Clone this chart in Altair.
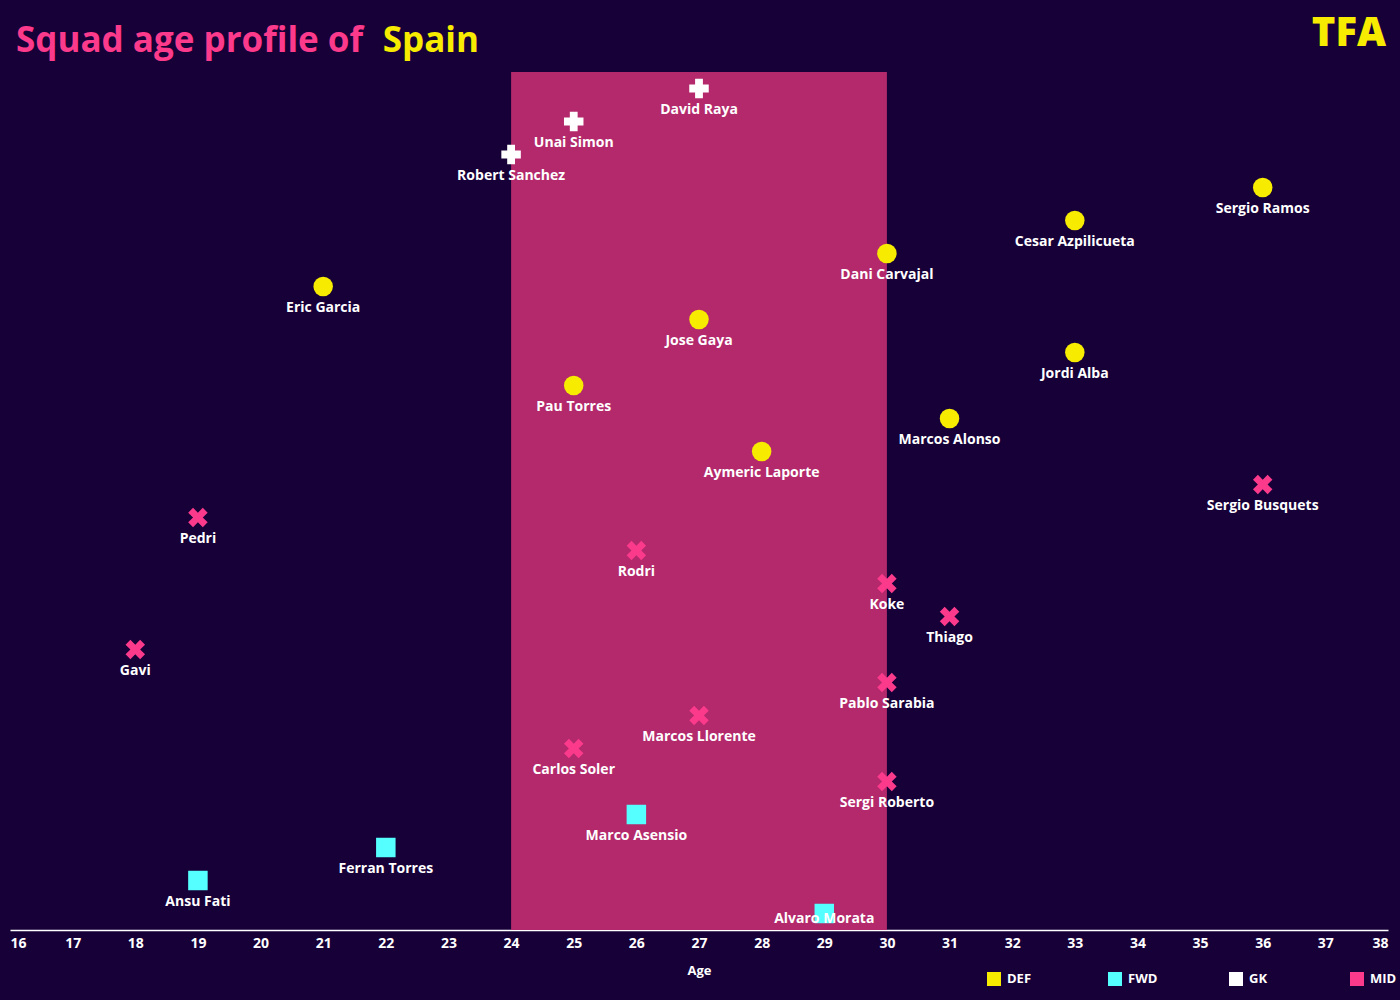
import altair as alt
import pandas as pd

names = ["David Raya", "Unai Simon", "Robert Sanchez", "Sergio Ramos", "Cesar Azpilicueta",
         "Dani Carvajal", "Eric Garcia", "Jose Gaya", "Jordi Alba", "Pau Torres",
         "Marcos Alonso", "Aymeric Laporte", "Sergio Busquets", "Pedri", "Rodri",
         "Koke", "Thiago", "Gavi", "Pablo Sarabia", "Marcos Llorente", "Carlos Soler",
         "Sergi Roberto", "Marco Asensio", "Ferran Torres", "Ansu Fati", "Alvaro Morata"]
ages = [27, 25, 24, 36, 33, 30, 21, 27, 33, 25, 31, 28, 36, 19, 26, 30, 31, 18, 30, 27, 25,
        30, 26, 22, 19, 29]
positions = ["GK", "GK", "GK", "DEF", "DEF", "DEF", "DEF", "DEF", "DEF", "DEF", "DEF", "DEF",
             "MID", "MID", "MID", "MID", "MID", "MID", "MID", "MID", "MID", "MID",
             "FWD", "FWD", "FWD", "FWD"]
ranks = list(range(1, len(names) + 1))

pos_domain = ["DEF", "FWD", "GK", "MID"]
pos_colors = ["#f7ec00", "#55ffff", "#ffffff", "#fb3a8c"]
x_path = "M-1,-0.5L-0.5,-1L0,-0.5L0.5,-1L1,-0.5L0.5,0L1,0.5L0.5,1L0,0.5L-0.5,1L-1,0.5L-0.5,0Z"
pos_shapes = ["circle", "square", "cross", x_path]

band_start = [24]
band_end = [30]

BG = "#170038"
W, H = 1378, 858
FONT = "Open Sans"

df = pd.DataFrame({"name": names, "age": ages, "pos": positions, "rank": ranks})
df["pos_mark"] = df["pos"]
band = pd.DataFrame({"start": band_start, "end": band_end})

xscale = alt.Scale(domain=[16, 38], nice=False, zero=False)
yscale = alt.Scale(domain=[0.5, 26.5], reverse=True, nice=False, zero=False)

rect = alt.Chart(band).mark_rect(color="#b3296b").encode(
    x=alt.X("start:Q", scale=xscale,
            axis=alt.Axis(title="Age", values=list(range(16, 39)), format="d",
                          grid=False, ticks=False, domainColor="#ffffff", domainWidth=1.5,
                          labelColor="#ffffff", labelFont=FONT, labelFontWeight="bold",
                          labelFontSize=14, labelPadding=6, labelFlush=True,
                          titleColor="#ffffff", titleFont=FONT, titleFontWeight="bold",
                          titleFontSize=13, titlePadding=14)),
    x2="end:Q",
    y=alt.value(0),
    y2=alt.value(H),
)

# invisible squares that carry the legend
legend_layer = alt.Chart(df).mark_square(size=196, opacity=0).encode(
    x=alt.X("age:Q", scale=xscale),
    y=alt.Y("rank:Q", scale=yscale, axis=None),
    color=alt.Color("pos:N", scale=alt.Scale(domain=pos_domain, range=pos_colors),
                    legend=alt.Legend(title=None, orient="none", legendX=976, legendY=899,
                                      direction="horizontal", columns=4, symbolType="square",
                                      symbolSize=196, symbolOpacity=1, gridAlign="all",
                                      columnPadding=70, labelColor="#ffffff",
                                      labelFont=FONT, labelFontWeight="bold",
                                      labelFontSize=13, labelOffset=5)),
)

pts = alt.Chart(df).mark_point(filled=True, opacity=1, size=380).encode(
    x=alt.X("age:Q", scale=xscale),
    y=alt.Y("rank:Q", scale=yscale, axis=None),
    fill=alt.Fill("pos_mark:N", scale=alt.Scale(domain=pos_domain, range=pos_colors),
                  legend=None),
    shape=alt.Shape("pos_mark:N", scale=alt.Scale(domain=pos_domain, range=pos_shapes),
                    legend=None),
)

label_base = alt.Chart(df).encode(
    x=alt.X("age:Q", scale=xscale),
    y=alt.Y("rank:Q", scale=yscale),
    text="name:N",
)
labels = label_base.mark_text(font=FONT, fontWeight="bold", fontSize=14, color="#ffffff",
                              dy=21, baseline="middle").transform_filter(
    alt.datum.name != "Alvaro Morata")
labels_last = label_base.mark_text(font=FONT, fontWeight="bold", fontSize=14, color="#ffffff",
                                   dy=5, baseline="middle").transform_filter(
    alt.datum.name == "Alvaro Morata")

title_df = pd.DataFrame({"t1": ["Squad age profile of"], "t2": ["Spain"], "logo": ["TFA"]})
t1 = alt.Chart(title_df).mark_text(font=FONT, fontWeight="bold", fontSize=35, color="#fb3a8c",
                                   align="left", baseline="middle").encode(
    x=alt.value(6), y=alt.value(-31), text="t1:N")
t2 = alt.Chart(title_df).mark_text(font=FONT, fontWeight="bold", fontSize=35, color="#f7ec00",
                                   align="right", baseline="middle").encode(
    x=alt.value(469), y=alt.value(-31), text="t2:N")
logo = alt.Chart(title_df).mark_text(font=FONT, fontWeight=800, fontSize=40, color="#f7ec00",
                                     align="right", baseline="middle").encode(
    x=alt.value(1376), y=alt.value(-38), text="logo:N")

chart = alt.layer(rect, legend_layer, pts, labels, labels_last, t1, t2, logo).resolve_scale(
    color="independent", fill="independent", shape="independent",
).properties(
    width=W, height=H, background=BG,
    padding={"left": 10, "top": 72, "right": 12, "bottom": 70},
    autosize=alt.AutoSizeParams(type="none"),
).configure_view(stroke=None, fill=BG)

chart.save("out.html", embed_options={"renderer": "svg", "actions": False})
